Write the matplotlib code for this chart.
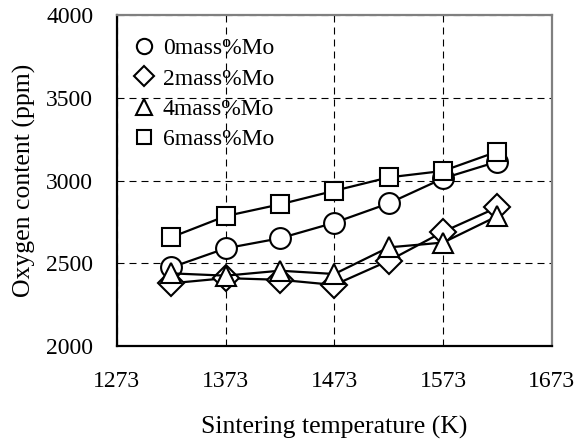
import matplotlib.pyplot as plt
from matplotlib.lines import Line2D

temps = [1323, 1373, 1423, 1473, 1523, 1573, 1623]
mo0 = [2475, 2590, 2651, 2745, 2862, 3013, 3114]
mo2 = [2379, 2410, 2400, 2369, 2515, 2690, 2838]
mo4 = [2439, 2425, 2455, 2435, 2596, 2625, 2785]
mo6 = [2657, 2785, 2856, 2938, 3019, 3058, 3175]
labels = ['0mass%Mo', '2mass%Mo', '4mass%Mo', '6mass%Mo']
markers = ['o', 'D', '^', 's']
sizes = [15, 13, 15, 13]
legend_sizes = [11, 10, 11, 10]

plt.rcParams['font.family'] = ['Liberation Serif', 'DejaVu Serif']


def main():
    fig = plt.figure(figsize=(5.76, 4.43), dpi=100)
    ax = fig.add_axes([0.203, 0.219, 0.755, 0.747])

    series = [mo0, mo2, mo4, mo6]
    for vals, m, s in zip(series, markers, sizes):
        ax.plot(temps, vals, color='black', lw=1.6, marker=m, ms=s,
                mfc='white', mec='black', mew=1.5, zorder=3)

    ax.set_xlim(1273, 1673)
    ax.set_ylim(2000, 4000)
    ax.set_xticks([1273, 1373, 1473, 1573, 1673])
    ax.set_yticks([2000, 2500, 3000, 3500, 4000])
    ax.grid(True, color='black', ls=(0, (6.3, 4.5)), lw=0.8)
    ax.tick_params(axis='x', length=0, labelsize=17, pad=18)
    ax.tick_params(axis='y', length=0, labelsize=17, pad=17)

    for side in ['left', 'bottom']:
        ax.spines[side].set_linewidth(1.6)
        ax.spines[side].set_color('black')
    for side in ['top', 'right']:
        ax.spines[side].set_linewidth(1.6)
        ax.spines[side].set_color('#808080')

    ax.set_xlabel('Sintering temperature (K)', fontsize=18.5, labelpad=17)
    ax.set_ylabel('Oxygen content (ppm)', fontsize=18.5, labelpad=7)

    handles = [Line2D([], [], ls='none', marker=m, ms=s, mfc='white',
                      mec='black', mew=1.5) for m, s in zip(markers, legend_sizes)]
    ax.legend(handles, labels, loc='upper left', bbox_to_anchor=(-0.012, 1),
              frameon=False, fontsize=17, handlelength=0.8, handletextpad=0.4,
              labelspacing=0.37, borderaxespad=0.67, borderpad=0.3)

    fig.savefig('out.png', dpi=100)


if __name__ == '__main__':
    main()
